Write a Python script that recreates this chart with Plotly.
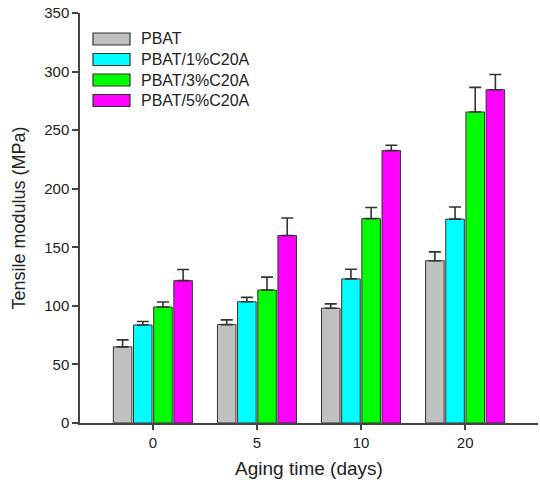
import plotly.graph_objects as go

days = ["0", "5", "10", "20"]
series_names = ["PBAT", "PBAT/1%C20A", "PBAT/3%C20A", "PBAT/5%C20A"]
pbat = [65, 84, 98, 138.5]
pbat_1 = [83.7, 103.5, 123, 174]
pbat_3 = [99, 113.5, 174.5, 265.5]
pbat_5 = [121.5, 160, 232.5, 284.5]
err_pbat = [6, 4, 3.7, 7.6]
err_1 = [3, 3.7, 8.3, 10.4]
err_3 = [4.3, 11, 9.4, 21]
err_5 = [9.5, 15, 4.6, 13]
colors = ["#c0c0c0", "#00ffff", "#00ff00", "#ff00ff"]

values = [pbat, pbat_1, pbat_3, pbat_5]
errors = [err_pbat, err_1, err_3, err_5]

fig = go.Figure()
for name, vals, errs, col in zip(series_names, values, errors, colors):
    fig.add_trace(go.Bar(
        x=days, y=vals, name=name, showlegend=False,
        marker=dict(color=col, line=dict(color="#333333", width=1)),
        error_y=dict(type="data", array=errs, arrayminus=[0] * len(errs),
                     symmetric=False, color="#333333", thickness=1.6, width=6),
    ))

# custom legend (wide rectangular swatches like the original)
L, R, T, B = 80, 2, 13, 60
W, H = 540, 483
pw, ph = W - L - R, H - T - B


def px_x(px):
    return (px - L) / pw


def px_y(py):
    return (H - B - py) / ph


row_y = [39, 59.5, 80, 100.5]
for name, col, yc in zip(series_names, colors, row_y):
    fig.add_shape(type="rect", xref="paper", yref="paper",
                  x0=px_x(93), x1=px_x(130), y0=px_y(yc + 6), y1=px_y(yc - 6),
                  fillcolor=col, line=dict(color="#333333", width=1.2))
    fig.add_annotation(xref="paper", yref="paper", x=px_x(139), y=px_y(yc),
                       xanchor="left", yanchor="middle", text=name,
                       showarrow=False, font=dict(size=16, color="#222222"))

font_family = "Liberation Sans, Arial, sans-serif"
fig.update_layout(
    width=W, height=H,
    margin=dict(l=L, r=R, t=T, b=B),
    paper_bgcolor="white", plot_bgcolor="white",
    barmode="group", bargap=0.225, bargroupgap=0.08,
    font=dict(family=font_family, size=15, color="#222222"),
    showlegend=False,
    xaxis=dict(type="category", range=[-0.7, 3.7], showline=True,
               linecolor="#444444", linewidth=1.5, ticks="outside",
               ticklen=5, tickwidth=1.5, tickcolor="#444444",
               showgrid=False, zeroline=False,
               title=dict(text="Aging time (days)", font=dict(size=19), standoff=12),
               tickfont=dict(size=15)),
    yaxis=dict(range=[0, 350], showline=True, linecolor="#444444",
               linewidth=1.5, ticks="outside", ticklen=6, tickwidth=1.5,
               tickcolor="#444444", showgrid=False, zeroline=False,
               dtick=50,
               title=dict(text="Tensile modulus (MPa)", font=dict(size=18), standoff=14),
               tickfont=dict(size=15)),
)

fig.write_html("out.html")
